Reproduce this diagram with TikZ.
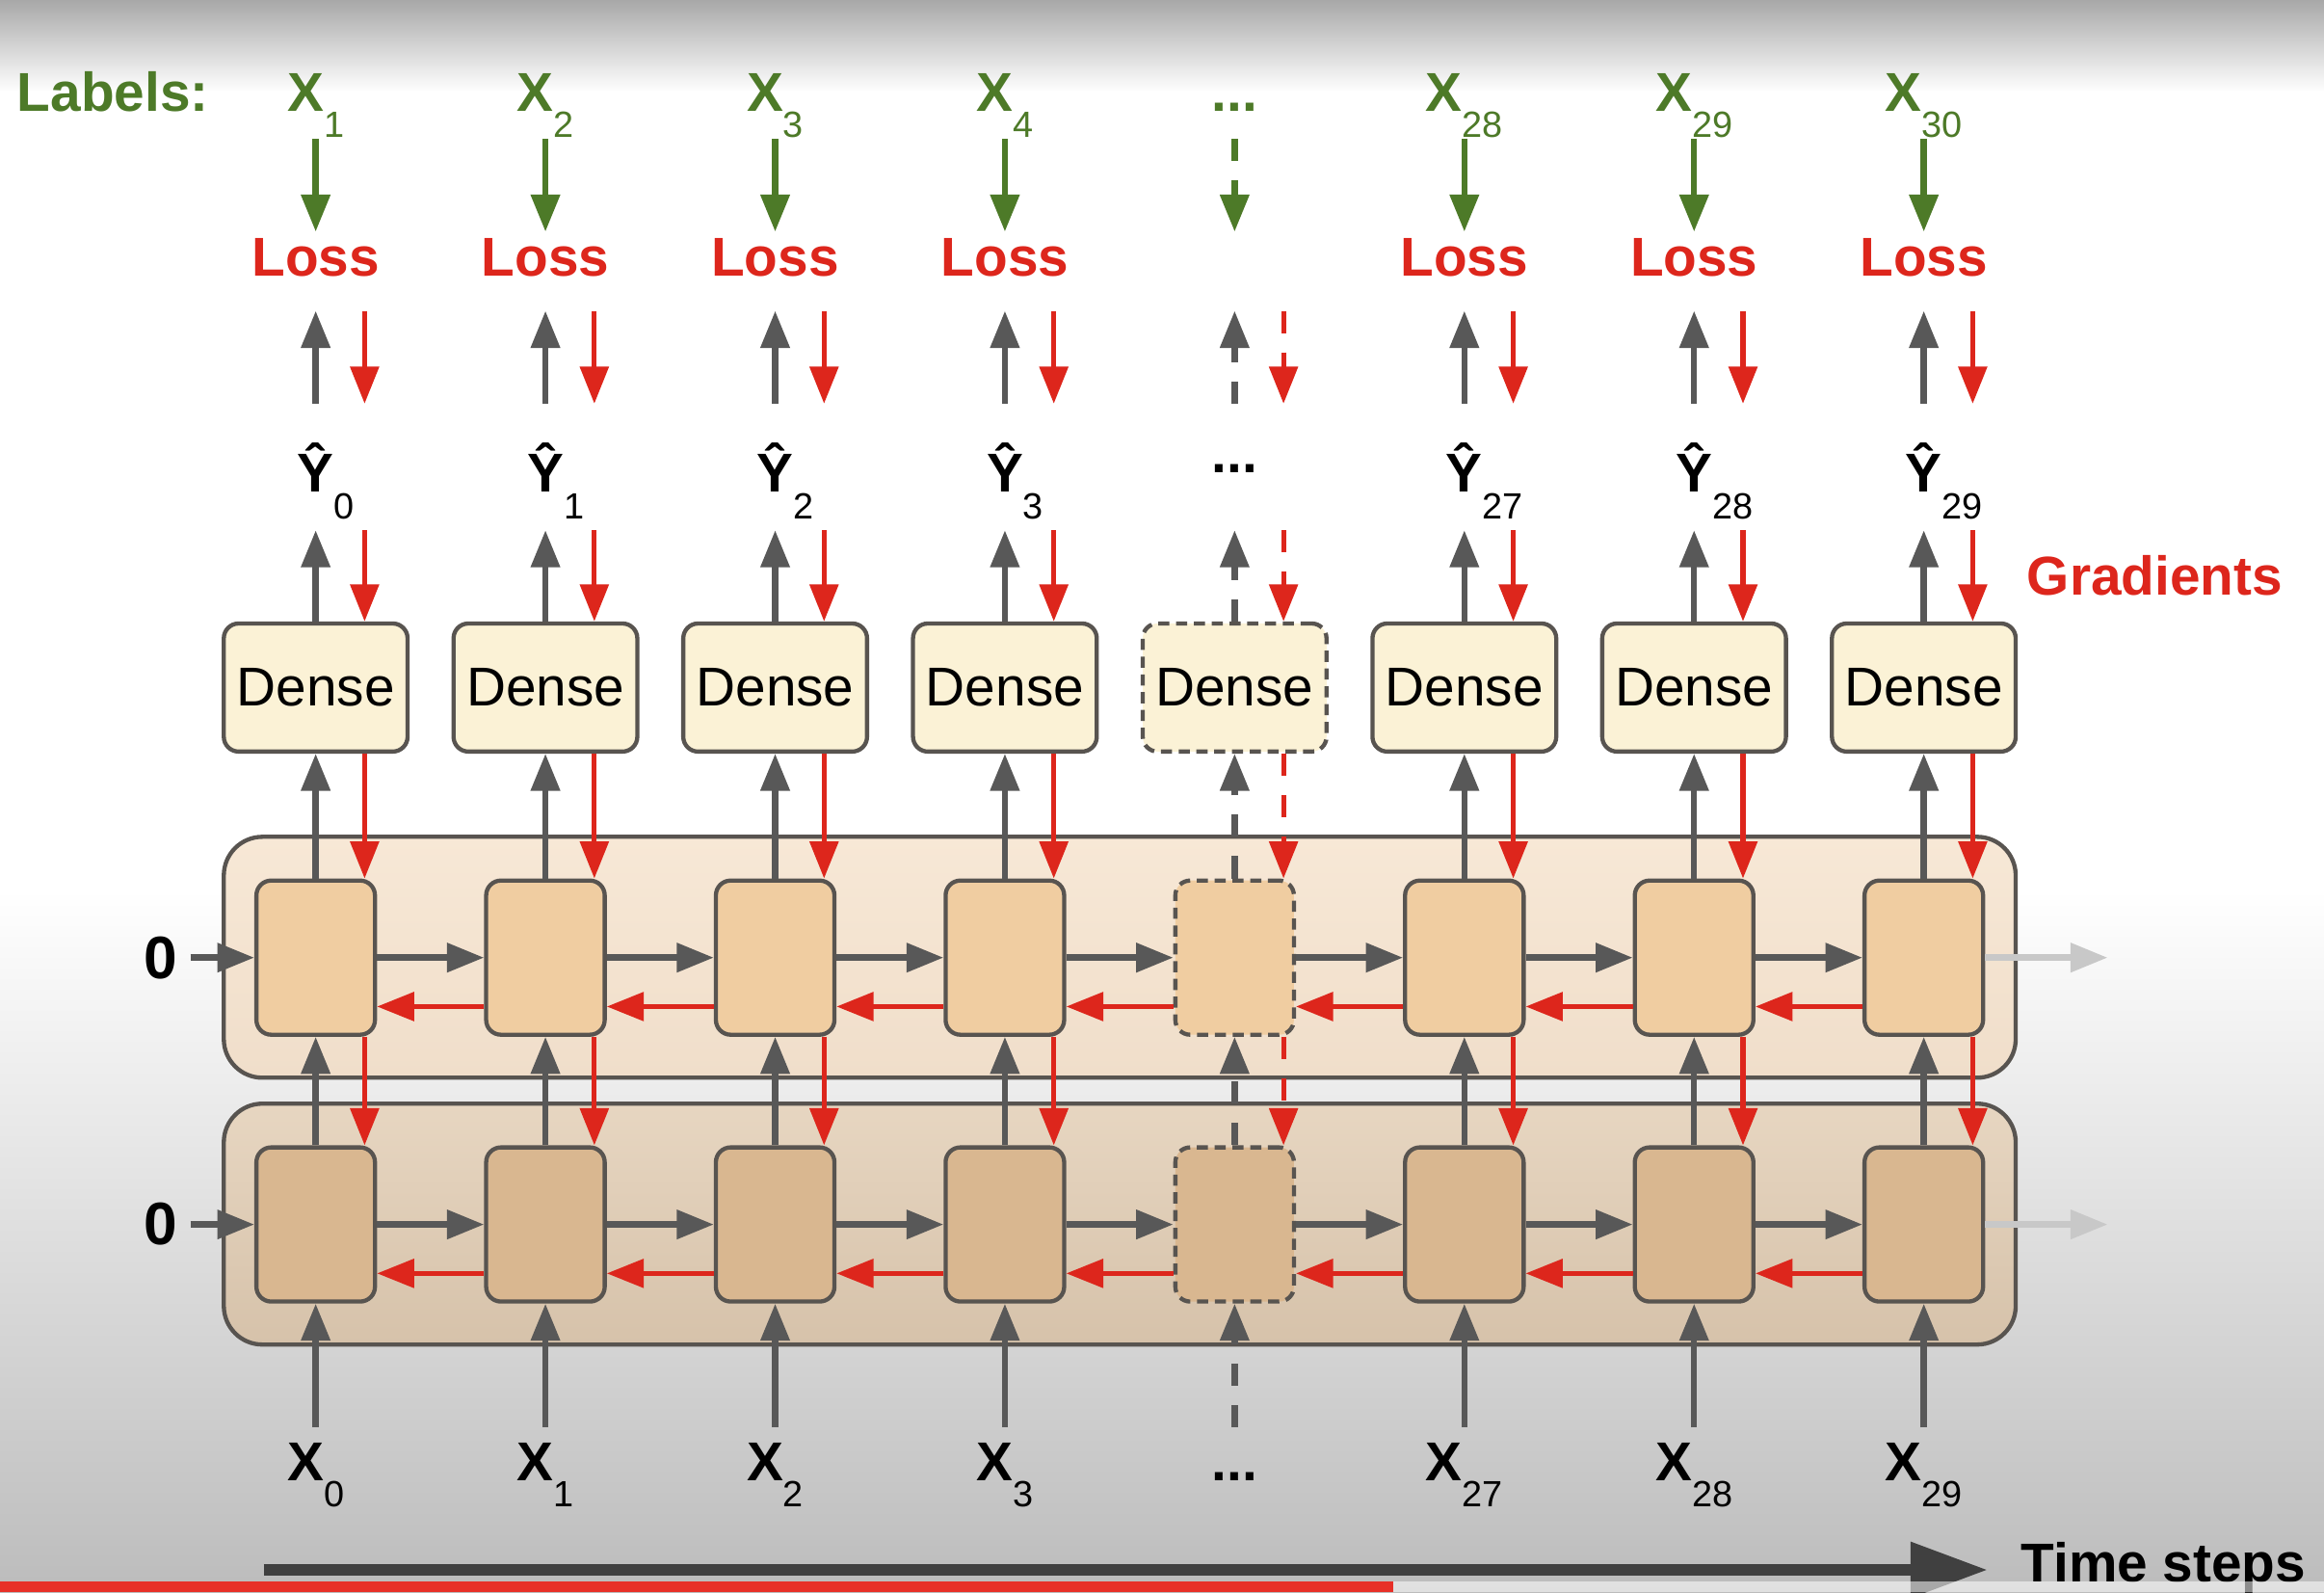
\documentclass[tikz,border=0pt]{standalone}
\usepackage{fontspec}
\setmainfont{Liberation Sans}
\usetikzlibrary{arrows.meta}

\definecolor{lblgreen}{RGB}{77,122,40}
\definecolor{gradred}{RGB}{221,38,28}
\definecolor{fwdgray}{RGB}{88,88,88}
\definecolor{edgegray}{RGB}{88,84,80}
\definecolor{densefill}{RGB}{251,242,214}
\definecolor{layerAtop}{RGB}{247,232,214}
\definecolor{layerAbot}{RGB}{240,222,202}
\definecolor{cellAfill}{RGB}{240,205,161}
\definecolor{layerBtop}{RGB}{231,214,193}
\definecolor{layerBbot}{RGB}{214,194,170}
\definecolor{cellBfill}{RGB}{217,183,144}
\definecolor{fadegray}{RGB}{200,200,200}
\definecolor{timegray}{RGB}{64,64,64}
\definecolor{bgtop}{RGB}{168,168,168}
\definecolor{bgbot}{RGB}{188,188,188}
\definecolor{barred}{RGB}{232,48,40}

\newcommand{\bigsz}{\fontsize{10.5}{12}\selectfont}
\newcommand{\smallsz}{\fontsize{7}{8}\selectfont}
\newcommand{\idx}[1]{\raisebox{-1.75mm}{\smallsz\mdseries #1}}
\newcommand{\hatidx}[1]{\rlap{\raisebox{-1.85mm}[0pt][0pt]{\smallsz\mdseries #1}}}

\tikzset{
    tip/.style={-{Triangle[width=1.9mm,length=2.5mm]}},
    fwd/.style={tip, draw=fwdgray, line width=1.2pt},
    bwd/.style={tip, draw=gradred, line width=0.95pt},
    lblarrow/.style={tip, draw=lblgreen, line width=1.2pt},
    fade/.style={tip, draw=fadegray, line width=1.2pt},
    skip/.style={dash pattern=on 1.5mm off 1.3mm},
    skipbox/.style={dash pattern=on 0.75mm off 0.45mm},
    txt/.style={inner sep=0pt, anchor=base, font=\bigsz\bfseries},
    lbl/.style={txt, text=lblgreen, text height=3mm, text depth=1.8mm},
    loss/.style={txt, text=gradred, text height=2.95mm, text depth=2.25mm},
    yhat/.style={txt, text height=5.86mm, text depth=2.54mm},
    xin/.style={txt, text height=3.55mm, text depth=1.6mm},
    box/.style={draw=edgegray, line width=0.8pt, rounded corners=1mm, inner sep=0pt},
    dense/.style={box, fill=densefill, minimum width=12.4mm, minimum height=8.64mm, font=\bigsz},
    cellA/.style={box, fill=cellAfill, minimum width=8mm, minimum height=10.4mm},
    cellB/.style={box, fill=cellBfill, minimum width=8mm, minimum height=10.4mm},
    layer/.style={draw=edgegray, line width=0.8pt, rounded corners=2.6mm, minimum width=120.9mm, minimum height=16.25mm},
    zero/.style={inner sep=0.8mm, font=\fontsize{11.5}{12}\selectfont\bfseries},
    timeline/.style={draw=timegray, line width=0.76mm, -{Triangle[width=3.6mm,length=5.2mm]}}
}

% #1 name, #2 x, #3 label, #4 loss, #5 prediction, #6 input, #7 arrow style, #8 box style
\newcommand{\timestep}[8]{
    \node[lbl] (lbl#1) at (#2,75) {#3};
    \node[loss] (loss#1) at (#2,186.5) {#4};
    \node[yhat] (yhat#1) at (#2,331.6) {#5};
    \node[dense,#8] (dense#1) at (#2,463.8) {Dense};
    \node[cellA,#8] (top#1) at (#2,646) {};
    \node[cellB,#8] (bot#1) at (#2,826) {};
    \node[xin] (in#1) at (#2,999) {#6};
    % forward pass
    \draw[lblarrow,#7] (lbl#1.south) -- (loss#1.north);
    \draw[fwd,#7] (yhat#1.north) -- (loss#1.south);
    \draw[fwd,#7] (dense#1.north) -- (yhat#1.south);
    \draw[fwd,#7] (top#1.north) -- (dense#1.south);
    \draw[fwd,#7] (bot#1.north) -- (top#1.south);
    \draw[fwd,#7] (in#1.north) -- (bot#1.south);
    % gradients
    \draw[bwd,#7] ([xshift=3.3mm]loss#1.south) -- ([xshift=3.3mm]yhat#1.north);
    \draw[bwd,#7] ([xshift=3.3mm]yhat#1.south) -- ([xshift=3.3mm]dense#1.north);
    \draw[bwd,#7] ([xshift=3.3mm]dense#1.south) -- ([xshift=3.3mm]top#1.north);
    \draw[bwd,#7] ([xshift=3.3mm]top#1.south) -- ([xshift=3.3mm]bot#1.north);
}

\begin{document}
\begin{tikzpicture}[x=0.1mm,y=-0.1mm]
    \useasboundingbox (0,0) rectangle (1568,1074);

    % background
    \fill[white] (0,0) rectangle (1568,1074);
    \shade[top color=bgtop, bottom color=white] (0,0) rectangle (1568,62);
    \shade[top color=white, bottom color=bgbot] (0,600) rectangle (1568,1074);

    % the two recurrent layers
    \node[layer, top color=layerAtop, bottom color=layerAbot] (layerA) at (755.5,645.75) {};
    \node[layer, top color=layerBtop, bottom color=layerBbot] (layerB) at (755.5,825.75) {};

    \timestep{1}{213}{X\idx{1}}{Loss}{Ŷ\hatidx{0}}{X\idx{0}}{solid}{solid}
    \timestep{2}{368}{X\idx{2}}{Loss}{Ŷ\hatidx{1}}{X\idx{1}}{solid}{solid}
    \timestep{3}{523}{X\idx{3}}{Loss}{Ŷ\hatidx{2}}{X\idx{2}}{solid}{solid}
    \timestep{4}{678}{X\idx{4}}{Loss}{Ŷ\hatidx{3}}{X\idx{3}}{solid}{solid}
    \timestep{5}{833}{...}{}{\raisebox{1.26mm}{...}}{...}{skip}{skipbox}
    \timestep{6}{988}{X\idx{28}}{Loss}{Ŷ\hatidx{27}}{X\idx{27}}{solid}{solid}
    \timestep{7}{1143}{X\idx{29}}{Loss}{Ŷ\hatidx{28}}{X\idx{28}}{solid}{solid}
    \timestep{8}{1298}{X\idx{30}}{Loss}{Ŷ\hatidx{29}}{X\idx{29}}{solid}{solid}

    % states through time
    \foreach \i/\j in {1/2,2/3,3/4,4/5,5/6,6/7,7/8} {
        \draw[fwd] (top\i.east) -- (top\j.west);
        \draw[bwd] ([yshift=-3.3mm]top\j.west) -- ([yshift=-3.3mm]top\i.east);
        \draw[fwd] (bot\i.east) -- (bot\j.west);
        \draw[bwd] ([yshift=-3.3mm]bot\j.west) -- ([yshift=-3.3mm]bot\i.east);
    }

    % initial states
    \node[zero] (zeroA) at (108.5,646) {0};
    \node[zero] (zeroB) at (108.5,826) {0};
    \draw[fwd] (zeroA.east) -- (top1.west);
    \draw[fwd] (zeroB.east) -- (bot1.west);

    % last states
    \coordinate (outA) at (1422,646);
    \coordinate (outB) at (1422,826);
    \draw[fade] (top8.east) -- (outA);
    \draw[fade] (bot8.east) -- (outB);

    \node[txt, anchor=base west, text=lblgreen] (labels) at (11,75) {Labels:};
    \node[txt, anchor=base west, text=gradred] (grad) at (1367,401.5) {Gradients};

    % time axis
    \coordinate (tA) at (178,1059);
    \coordinate (tB) at (1341,1059);
    \draw[timeline] (tA) -- (tB);
    \node[txt, anchor=base west] (tsteps) at (1363,1067) {Time steps};

    % progress bar
    \fill[barred] (0,1067) rectangle (940,1074);
    \fill[white, opacity=0.55] (940,1067) rectangle (1568,1074);
\end{tikzpicture}
\end{document}
